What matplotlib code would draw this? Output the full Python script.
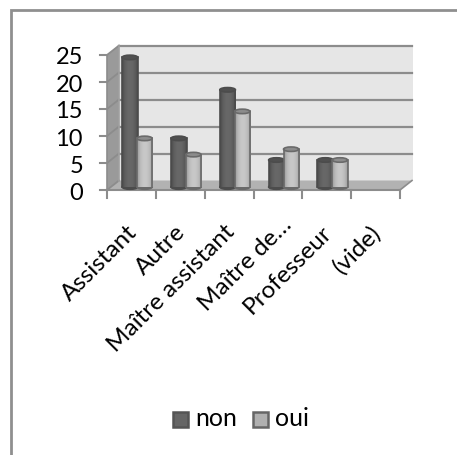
import numpy as np
import matplotlib
matplotlib.use('Agg')
import matplotlib.pyplot as plt
from matplotlib.patches import Polygon, Ellipse, Rectangle
from matplotlib.lines import Line2D

categories = ['Assistant', 'Autre', 'Maître assistant', 'Maître de…', 'Professeur', '(vide)']
non = [24, 9, 18, 5, 5, None]
oui = [9, 6, 14, 7, 5, None]
yticks = [0, 5, 10, 15, 20, 25]

W, H = 457, 455
plt.rcParams['font.family'] = ['Lato', 'DejaVu Sans']
fig = plt.figure(figsize=(W/100, H/100), dpi=100)
fig.patch.set_facecolor('white')
# chart frame: only its left and top edges fall inside the picture
fig.add_artist(Line2D([11/W, 11/W, 1], [0, 1-10/H, 1-10/H], transform=fig.transFigure,
                      color='#8f8f8f', lw=2.0, solid_joinstyle='miter'))

L, R, T, B = 107, 400, 55, 190
ax = fig.add_axes([L/W, 1-B/H, (R-L)/W, (B-T)/H])
ax.set_xlim(0, 6)
ax.set_ylim(0, 25)
ax.axis('off')
ux = (R-L)/6
uy = (B-T)/25
dx, dy = 12/ux, 9.5/uy     # depth of the 3D box in data units
kw = dict(clip_on=False)

# walls
ax.add_patch(Polygon([(dx, dy), (6+dx+.02, dy), (6+dx+.02, 25+dy), (dx, 25+dy)], fc='#e6e6e6', ec='none', zorder=1, **kw))
ax.add_patch(Polygon([(0, 0), (dx, dy), (dx, 25+dy), (0, 25)], fc='#9a9a9a', ec='none', zorder=1, **kw))
ax.add_patch(Polygon([(0, 0), (6, 0), (6+dx, dy), (dx, dy)], fc='#b2b2b2', ec='none', zorder=1, **kw))
for v in yticks:
    if v:
        ax.plot([dx, 6+dx], [v+dy, v+dy], color='#8c8c8c', lw=1.6, zorder=2, **kw)
    ax.plot([0, dx], [v, v+dy], color='#8c8c8c', lw=1.3, zorder=2, **kw)
    ax.plot([-7/ux, 0], [v, v], color='#8c8c8c', lw=1.5, zorder=2, **kw)
ax.plot([dx, dx], [dy, 25+dy], color='#a0a0a0', lw=1.2, zorder=2, **kw)
ax.plot([0, 0], [0, 25], color='#8c8c8c', lw=1.2, zorder=2, **kw)
ax.plot([0, 6], [0, 0], color='#8c8c8c', lw=1.5, zorder=2, **kw)
for i in range(7):
    ax.plot([i, i], [0, -8/uy], color='#8c8c8c', lw=1.5, zorder=2, **kw)
    if i == 6:
        ax.plot([i, i+dx], [0, dy], color='#8c8c8c', lw=1.2, zorder=2, **kw)

def cylinder(cx, w, v, base, lo, hi, edge, cap, z):
    if v is None:
        return
    t = np.linspace(-1, 1, 32)
    g = np.sqrt(1 - (t*0.85)**2)
    g = (g - g.min())/(g.max()-g.min())
    shade = (lo + (hi-lo)*g)[None, :]/255
    top = base + v
    eh = 4.5/uy
    ax.imshow(shade, cmap='gray', vmin=0, vmax=1, extent=(cx-w/2, cx+w/2, base, top), aspect='auto', zorder=z, clip_on=False, interpolation='bilinear')
    ax.add_patch(Ellipse((cx, base), w, eh, fc=edge, ec=edge, lw=1.2, zorder=z-.1, **kw))
    ax.plot([cx-w/2, cx-w/2], [base, top], color=edge, lw=1.2, zorder=z+.1, **kw)
    ax.plot([cx+w/2, cx+w/2], [base, top], color=edge, lw=1.2, zorder=z+.1, **kw)
    ax.add_patch(Ellipse((cx, top), w, eh, fc=cap, ec=edge, lw=1.2, zorder=z+.2, **kw))

base = 3/uy
for i in range(6):
    cylinder(i+.47, .32, non[i], base, 72, 104, '#4c4c4c', '#505050', 4+i)
    cylinder(i+.77, .31, oui[i], base, 150, 200, '#6a6a6a', '#8c8c8c', 4.5+i)

ax.set_xticks([])
ax.set_yticks([])
for v in yticks:
    ax.annotate(str(v), (0, v), xytext=(-24, -3), textcoords='offset pixels', ha='right', va='center',
                fontsize=17, color='black', annotation_clip=False)
for i, c in enumerate(categories):
    extra = 8 if c.endswith('…') else 0
    ax.annotate(c, (i+.5, 0), xytext=(2+extra, -39+extra), textcoords='offset pixels', rotation=45, rotation_mode='anchor',
                ha='right', va='center', fontsize=17.5, color='black', annotation_clip=False)

# legend
for px, lab, fc, ec in [(173, 'non', '#666666', '#555555'), (253, 'oui', '#b0b0b0', '#666666')]:
    fig.add_artist(Rectangle((px/W, 1-427/H), 15/W, 15/H, transform=fig.transFigure, fc=fc, ec=ec, lw=1.8))
    fig.text((px+22)/W, 1-419/H, lab, ha='left', va='center', fontsize=18, color='black')

fig.savefig('out.png', dpi=100)
